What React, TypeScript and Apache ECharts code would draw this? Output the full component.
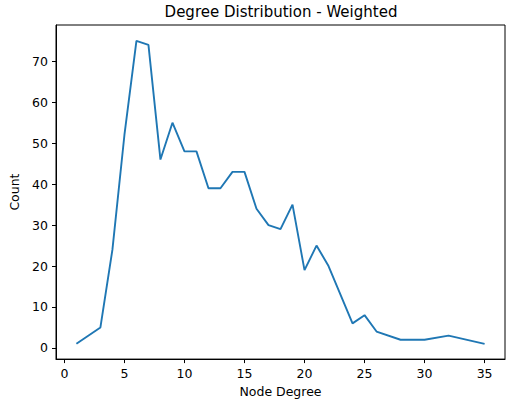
import React, { useEffect, useRef } from "react";
import * as echarts from "echarts";

const degrees = [1, 3, 4, 5, 6, 7, 8, 9, 10, 11, 12, 13, 14, 15, 16, 17, 18, 19, 20, 21, 22, 24, 25, 26, 28, 30, 32, 35];
const counts = [1, 5, 24, 52, 75, 74, 46, 55, 48, 48, 39, 39, 43, 43, 34, 30, 29, 35, 19, 25, 20, 6, 8, 4, 2, 2, 3, 1];
const xTicks = [0, 5, 10, 15, 20, 25, 30, 35];
const yTicks = [0, 10, 20, 30, 40, 50, 60, 70];

const FONT = "DejaVu Sans";

export default function App() {
  const ref = useRef<HTMLDivElement>(null);
  useEffect(() => {
    if (!ref.current) return;
    const chart = echarts.init(ref.current, undefined, { renderer: "svg" });
    const data = degrees.map((d, i) => [d, counts[i]]);
    chart.setOption({
      animation: false,
      backgroundColor: "#ffffff",
      textStyle: { fontFamily: FONT },
      title: {
        text: "Degree Distribution - Weighted",
        left: 281,
        top: 4,
        padding: 0,
        textAlign: "center",
        textStyle: { fontFamily: FONT, fontSize: 15, fontWeight: "normal", color: "#000" },
      },
      grid: {
        left: 56,
        right: 1,
        top: 25,
        bottom: 40,
        show: true,
        borderColor: "#000",
        borderWidth: 1,
        backgroundColor: "transparent",
      },
      xAxis: {
        type: "value",
        min: -0.7,
        max: 36.7,
        name: "Node Degree",
        nameLocation: "middle",
        nameGap: 25,
        nameTextStyle: { fontFamily: FONT, fontSize: 12.5, color: "#000" },
        axisLine: { show: true, onZero: false, lineStyle: { color: "#000", width: 1 } },
        axisTick: { show: true, length: 4, lineStyle: { color: "#000" }, customValues: xTicks },
        axisLabel: { margin: 8, fontFamily: FONT, fontSize: 12.5, color: "#000", customValues: xTicks },
        splitLine: { show: false },
      },
      yAxis: {
        type: "value",
        min: -2.73,
        max: 78.86,
        name: "Count",
        nameLocation: "middle",
        nameGap: 30,
        nameTextStyle: { fontFamily: FONT, fontSize: 12.5, color: "#000" },
        axisLine: { show: true, onZero: false, lineStyle: { color: "#000", width: 1 } },
        axisTick: { show: true, length: 4, lineStyle: { color: "#000" }, customValues: yTicks },
        axisLabel: { margin: 8, fontFamily: FONT, fontSize: 12.5, color: "#000", customValues: yTicks },
        splitLine: { show: false },
      },
      series: [
        {
          type: "line",
          data,
          showSymbol: false,
          symbol: "none",
          lineStyle: { color: "#1f77b4", width: 1.9 },
        },
      ],
    });
    return () => chart.dispose();
  }, []);
  return (
    <div
      ref={ref}
      style={{ position: "fixed", left: 0, top: 0, width: 506, height: 403 }}
    />
  );
}
